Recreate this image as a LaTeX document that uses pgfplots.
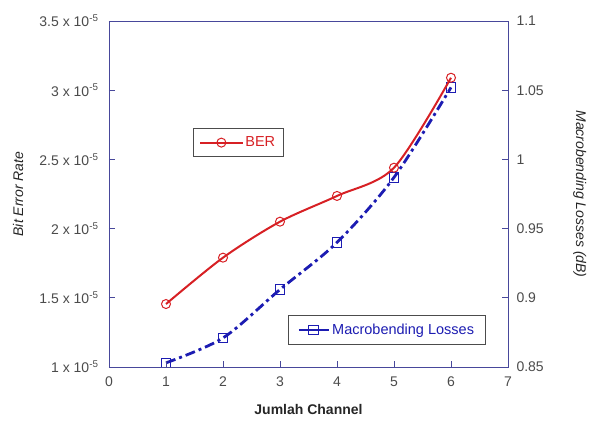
\documentclass[border=0pt]{standalone}
\usepackage{fontspec}
\setmainfont{Liberation Sans}
\usepackage{pgfplots}
\pgfplotsset{compat=1.18}

\definecolor{berred}{RGB}{215,32,36}
\definecolor{mlblue}{RGB}{28,28,178}
\definecolor{axisnavy}{RGB}{72,72,155}
\definecolor{labelgray}{RGB}{75,75,75}

\pgfplotsset{
  common/.style={
    at={(0,0)}, anchor=south west,
    scale only axis, width=399pt, height=346pt,
    xmin=0, xmax=7,
    axis line style={axisnavy, line width=0.9pt},
    every tick/.style={axisnavy, line width=0.9pt},
    major tick length=6pt,
    tick align=inside,
    tick label style={font=\fontsize{14}{16}\selectfont, text=labelgray},
    /pgf/number format/assume math mode=true,
    label style={font=\fontsize{14}{16}\selectfont, text=black!85},
    legend style={draw=black!70, line width=0.8pt, font=\fontsize{14.5}{16}\selectfont,
      inner xsep=6pt, inner ysep=6.5pt, cells={anchor=west}},
  },
}

\begin{document}
\begin{tikzpicture}[x=1pt,y=1pt]
\useasboundingbox (-109,-62) rectangle (489,367);

% Macrobending losses on the right-hand scale
\begin{axis}[
  common,
  ymin=0.85, ymax=1.1,
  hide x axis,
  axis y line*=right,
  ytick={0.85,0.9,0.95,1,1.05,1.1},
  yticklabel style={xshift=5pt},
  ylabel={\itshape Macrobending Losses (dB)},
  ylabel style={at={(axis description cs:1.18,0.5)}, anchor=center, rotate=180},
  legend style={at={(0.4486,0.150)}, anchor=north west, text=mlblue, inner xsep=9pt},
  legend image code/.code={
    \draw[mark repeat=2, mark phase=2, #1, solid] plot coordinates {(0pt,0pt) (15pt,0pt) (30pt,0pt)};},
]
\addplot[mlblue, line width=2.8pt, smooth,
  dash pattern=on 10pt off 4pt on 3pt off 4pt,
  mark=square, mark size=4.8pt,
  mark options={solid, line width=1pt, fill=white}]
  coordinates {(1,0.853) (2,0.871) (3,0.906) (4,0.940) (5,0.987) (6,1.052)};
\addlegendentry{Macrobending Losses}
\end{axis}

% Bit error rate on the left-hand scale
\begin{axis}[
  common,
  ymin=1, ymax=3.5,
  xtick={0,1,2,3,4,5,6,7},
  xtick pos=left, ytick pos=left,
  ytick={1,1.5,2,2.5,3,3.5},
  yticklabels={1 x 10\textsuperscript{-5}, 1.5 x 10\textsuperscript{-5}, 2 x 10\textsuperscript{-5},
    2.5 x 10\textsuperscript{-5}, 3 x 10\textsuperscript{-5}, 3.5 x 10\textsuperscript{-5}},
  yticklabel style={xshift=-7pt},
  xticklabel style={yshift=-6pt},
  xlabel={\bfseries Jumlah Channel},
  xlabel style={at={(axis description cs:0.5,-0.124)}, anchor=center},
  ylabel={\itshape Bit Error Rate},
  ylabel style={at={(axis description cs:-0.228,0.5)}, anchor=center},
  legend style={at={(0.2105,0.6908)}, anchor=north west, text=berred},
  legend image code/.code={
    \draw[mark repeat=2, mark phase=2, #1] plot coordinates {(0pt,0pt) (21pt,0pt) (42pt,0pt)};},
]
\addplot[berred, line width=2pt, smooth,
  mark=o, mark size=4.5pt,
  mark options={line width=1pt, fill=white}]
  coordinates {(1,1.455) (2,1.790) (3,2.050) (4,2.236) (5,2.440) (6,3.090)};
\addlegendentry{BER}
\end{axis}
\end{tikzpicture}
\end{document}
